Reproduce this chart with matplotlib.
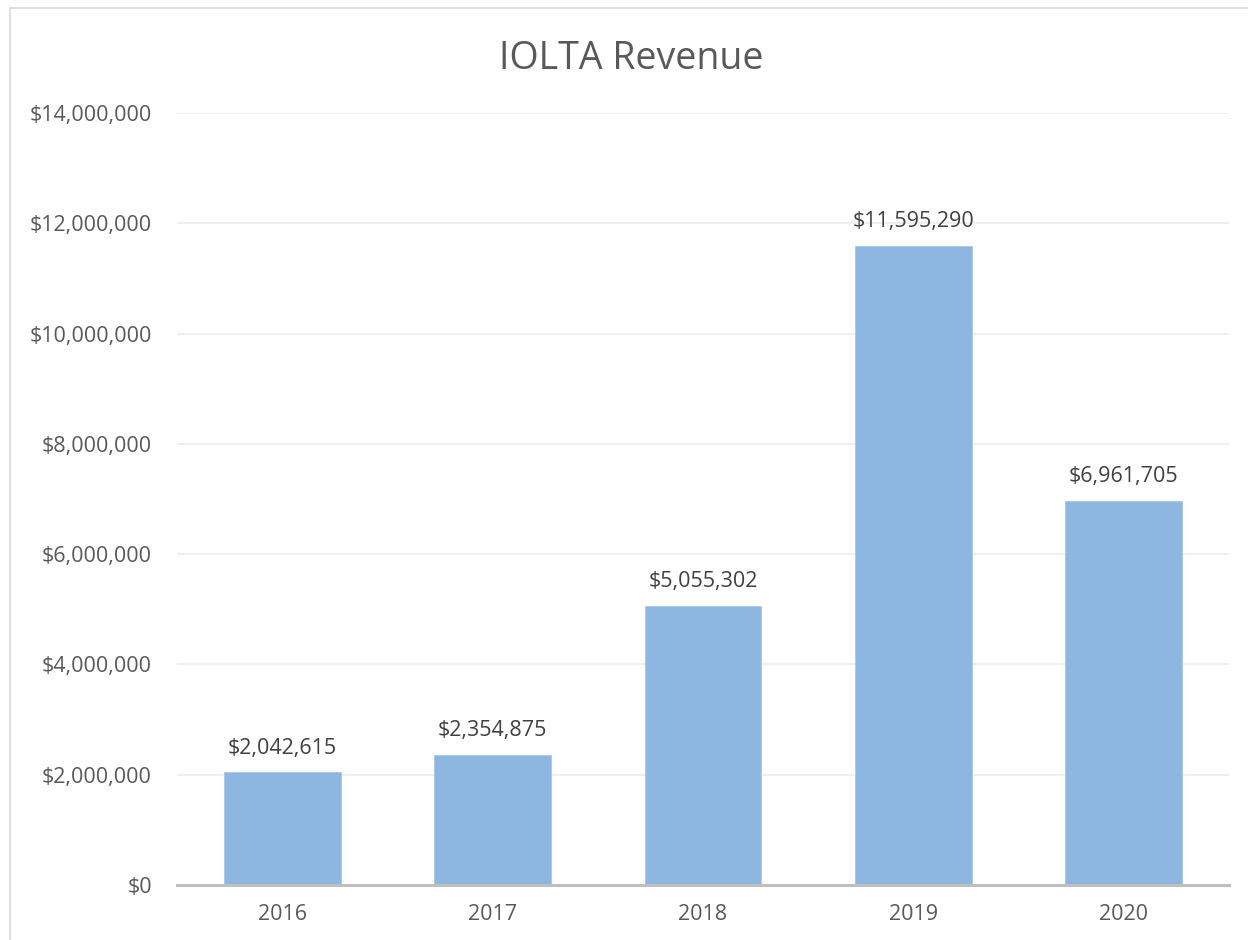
import matplotlib
matplotlib.use("Agg")
import matplotlib.pyplot as plt
from matplotlib.patches import Rectangle
from matplotlib.ticker import FuncFormatter, MultipleLocator

years = ["2016", "2017", "2018", "2019", "2020"]
revenue = [2042615, 2354875, 5055302, 11595290, 6961705]

plt.rcParams['font.family'] = ['Open Sans', 'DejaVu Sans']

fig = plt.figure(figsize=(12.48, 9.40), dpi=100)
ax = fig.add_axes([0.1418, 0.0585, 0.843, 0.8213])

# light frame round the chart area, cut by the right and bottom image edges
fig.patches.append(Rectangle((10 / 1248, -0.05), 1.1, 0.05 + 932 / 940, transform=fig.transFigure,
                             fill=False, edgecolor='#d9d9d9', linewidth=1.2))

x = range(len(years))
bars = ax.bar(x, revenue, width=0.555, color='#8db6e0', edgecolor='#a9c8ea', linewidth=0.6, zorder=3)

for xi, v in zip(x, revenue):
    ax.text(xi, v + 250000, f"${v:,.0f}", ha='center', va='bottom', fontsize=15.5, color='#404040')

ax.set_ylim(0, 14000000)
ax.set_xlim(-0.5, len(years) - 0.5)
ax.yaxis.set_major_locator(MultipleLocator(2000000))
ax.yaxis.set_major_formatter(FuncFormatter(lambda v, p: f"${v:,.0f}"))
ax.set_xticks(list(x))
ax.set_xticklabels(years)
ax.tick_params(axis='both', length=0, labelsize=15.5, labelcolor='#595959')
ax.tick_params(axis='y', pad=18)
ax.tick_params(axis='x', pad=14)

ax.grid(axis='y', color='#ececec', linewidth=1.2, zorder=0)
for s in ['top', 'right', 'left']:
    ax.spines[s].set_visible(False)
ax.spines['bottom'].set_color('#bfbfbf')
ax.spines['bottom'].set_linewidth(2.2)
ax.spines['bottom'].set_zorder(4)

fig.text(0.5055, 0.937, "IOLTA Revenue", ha='center', va='center', fontsize=27, color='#595959')

fig.savefig("out.png", dpi=100)
